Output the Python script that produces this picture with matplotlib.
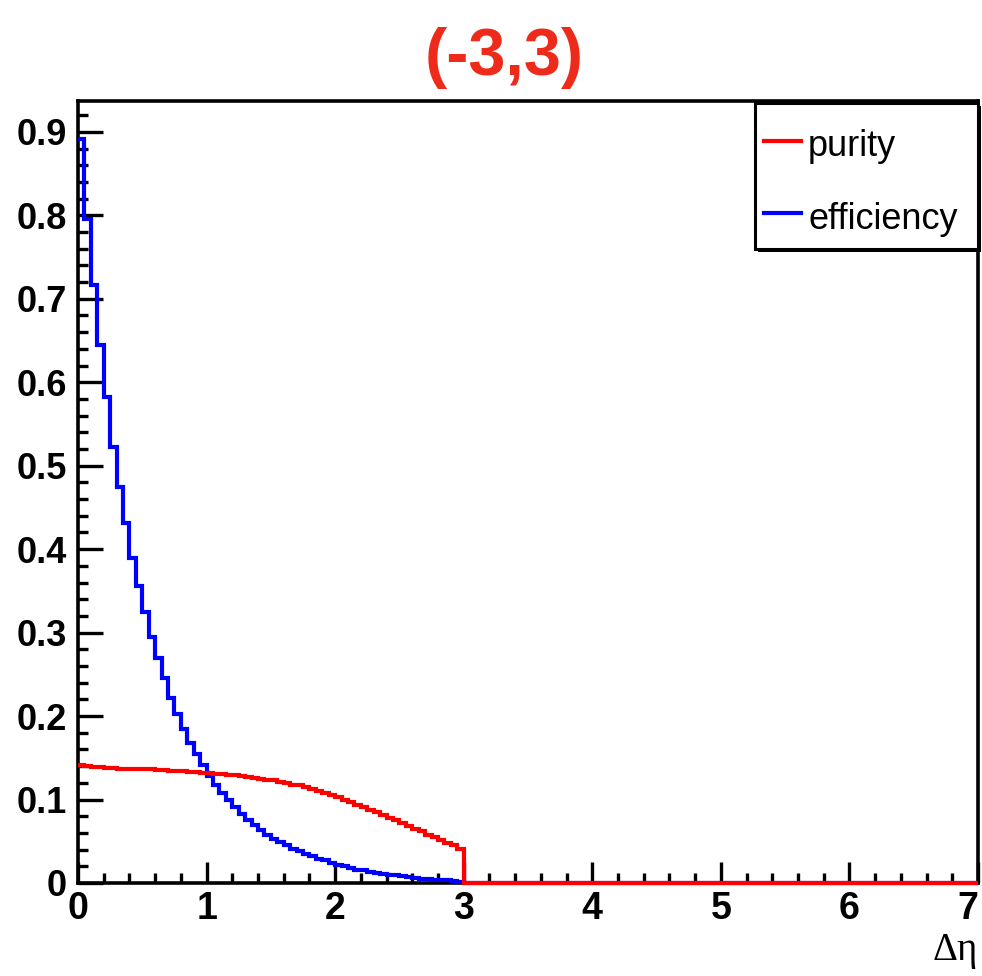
import numpy as np
import matplotlib
matplotlib.use("Agg")
import matplotlib.pyplot as plt
from matplotlib.patches import Rectangle
from matplotlib.ticker import MultipleLocator
from matplotlib.lines import Line2D

# ---------------- data ----------------
title = "(-3,3)"
xlabel = "\u0394\u03b7"
series_names = ["purity", "efficiency"]
bin_width = 0.05
x_range = (0.0, 7.0)

# efficiency per 0.05 bin, for 0 <= x < 3 (zero beyond)
efficiency = [
    0.892, 0.796, 0.717, 0.645, 0.582, 0.523, 0.475, 0.431, 0.389, 0.356,
    0.325, 0.295, 0.270, 0.246, 0.222, 0.202, 0.185, 0.168, 0.155, 0.141,
    0.128, 0.118, 0.108, 0.099, 0.091, 0.083, 0.076, 0.070, 0.064, 0.058,
    0.053, 0.049, 0.045, 0.041, 0.038, 0.035, 0.032, 0.029, 0.027, 0.024,
    0.022, 0.020, 0.018, 0.016, 0.015, 0.013, 0.012, 0.011, 0.010, 0.009,
    0.008, 0.007, 0.006, 0.005, 0.005, 0.004, 0.003, 0.003, 0.002, 0.001,
]
# purity per 0.05 bin, for 0 <= x < 3 (zero beyond)
purity = [
    0.141, 0.140, 0.139, 0.139, 0.138, 0.138, 0.137, 0.137, 0.137, 0.136,
    0.136, 0.136, 0.135, 0.135, 0.134, 0.134, 0.134, 0.133, 0.133, 0.132,
    0.132, 0.131, 0.131, 0.130, 0.129, 0.128, 0.127, 0.126, 0.125, 0.124,
    0.123, 0.121, 0.120, 0.118, 0.117, 0.115, 0.113, 0.110, 0.108, 0.105,
    0.103, 0.100, 0.097, 0.094, 0.091, 0.088, 0.085, 0.082, 0.078, 0.075,
    0.072, 0.068, 0.065, 0.062, 0.058, 0.055, 0.051, 0.048, 0.045, 0.041,
]
y_max = 0.937

NARROW = ["Liberation Sans Narrow", "Liberation Sans", "DejaVu Sans"]
SANS = ["Liberation Sans", "DejaVu Sans"]

# ---------------- figure ----------------
W, H = 982, 976
fig = plt.figure(figsize=(W / 100, H / 100), dpi=100)
L, R, T, B = 78, 978, 101, 883
ax = fig.add_axes([L / W, 1 - B / H, (R - L) / W, (B - T) / H])

nbins = int(round((x_range[1] - x_range[0]) / bin_width))
edges = np.linspace(x_range[0], x_range[1], nbins + 1)
eff_full = np.concatenate([efficiency, np.zeros(nbins - len(efficiency))])
pur_full = np.concatenate([purity, np.zeros(nbins - len(purity))])

lw = 3.0
ax.stairs(eff_full, edges, baseline=None, color="#0000ff", lw=lw, zorder=5, clip_on=False)
ax.stairs(pur_full, edges, baseline=None, color="#ff0000", lw=lw, zorder=6, clip_on=False)

ax.set_xlim(*x_range)
ax.set_ylim(0, y_max)

for s in ax.spines.values():
    s.set_linewidth(2.6)
    s.set_zorder(4)

ax.xaxis.set_major_locator(MultipleLocator(1))
ax.xaxis.set_minor_locator(MultipleLocator(0.2))
ax.yaxis.set_major_locator(MultipleLocator(0.1))
ax.yaxis.set_minor_locator(MultipleLocator(0.02))

ax.tick_params(axis="both", which="both", direction="in", top=False, right=False, width=2.4)
ax.tick_params(axis="y", which="major", length=18, pad=8)
ax.tick_params(axis="y", which="minor", length=7)
ax.tick_params(axis="x", which="major", length=15, pad=6)
ax.tick_params(axis="x", which="minor", length=7)

yt = np.arange(0, 0.95, 0.1)
ax.set_yticks(yt)
ax.set_yticklabels(["0" if abs(v) < 1e-9 else f"{v:.1f}" for v in yt])
ax.set_xticks(np.arange(0, 8, 1))
ax.set_xticklabels([str(i) for i in range(8)])
for lab in ax.get_yticklabels():
    lab.set_family(SANS)
    lab.set_fontweight("bold")
    lab.set_fontsize(26)
xl = ax.get_xticklabels()
for lab in xl:
    lab.set_family(NARROW)
    lab.set_fontweight("bold")
    lab.set_fontsize(27)
xl[-1].set_horizontalalignment("right")

# title
fig.text(504 / W, 1 - 58 / H, title, color="#ee2a1a", fontsize=48, fontweight="bold",
         family=NARROW, ha="center", va="center")

# x-axis label
fig.text(R / W, 1 - 960 / H, xlabel, fontsize=28, family=["Liberation Serif", "DejaVu Serif"],
         ha="right", va="baseline")

# legend (ROOT-style box with shadow)
def fx(px):
    return px / W
def fy(py):
    return 1 - py / H

lx0, lx1, ly0, ly1 = 755, 978, 103, 249
shadow = Rectangle((fx(lx0 + 3), fy(ly1 + 3)), fx(lx1 - lx0), (ly1 - ly0) / H,
                   transform=fig.transFigure, facecolor="black", edgecolor="black", lw=0, zorder=8)
box = Rectangle((fx(lx0), fy(ly1)), fx(lx1 - lx0), (ly1 - ly0) / H,
                transform=fig.transFigure, facecolor="white", edgecolor="black", lw=2.2, zorder=9)
fig.add_artist(shadow)
fig.add_artist(box)
colors = ["#ff0000", "#0000ff"]
line_y = [141, 213]
text_base = [156, 229]
for name, c, ly, tb in zip(series_names, colors, line_y, text_base):
    fig.add_artist(Line2D([fx(764), fx(801)], [fy(ly), fy(ly)], transform=fig.transFigure,
                          color=c, lw=3.0, zorder=10))
    fig.text(fx(808), fy(tb), name, fontsize=26, family=SANS,
             ha="left", va="baseline", zorder=10)

fig.savefig("out.png", dpi=100)
